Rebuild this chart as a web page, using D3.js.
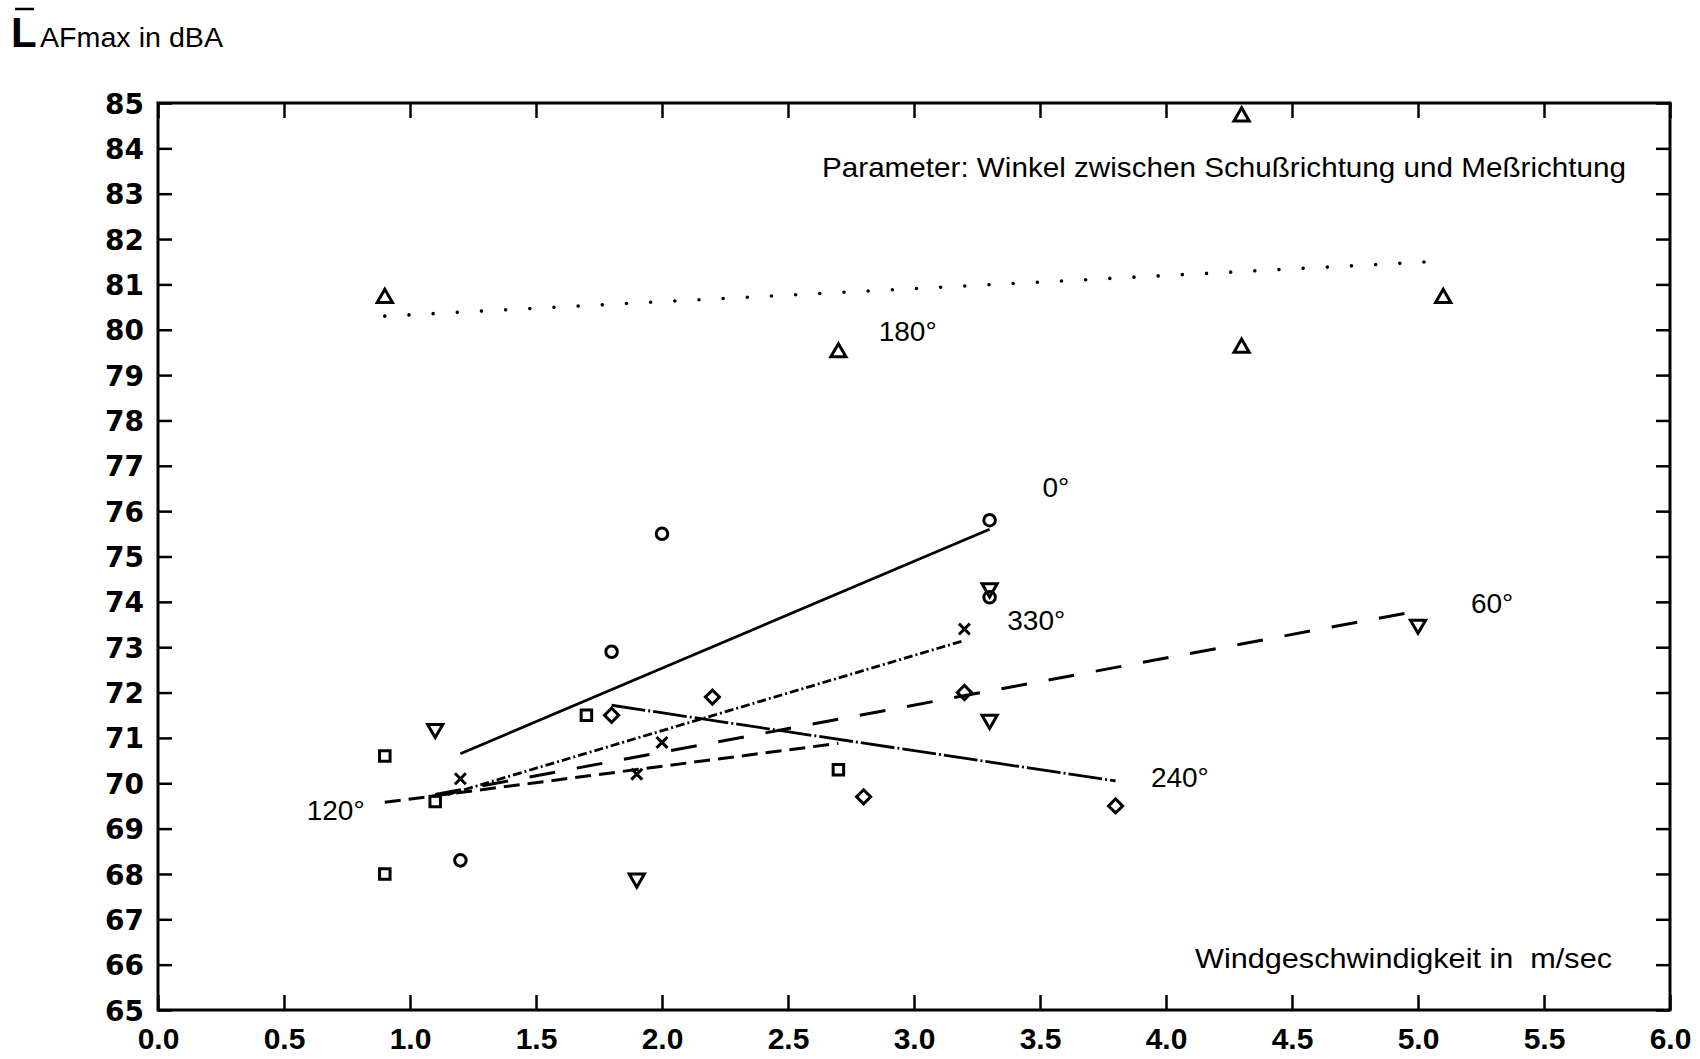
<!DOCTYPE html>
<html>
<head>
<meta charset="utf-8">
<title>LAFmax - Windgeschwindigkeit</title>
<script src="https://cdn.jsdelivr.net/npm/d3@7"></script>
<style>
  body { margin: 0; background: #fff; }
  svg text { fill: #000; }
  .lbl { font-family: "Liberation Sans", Arial, sans-serif; font-size: 28px; }
</style>
</head>
<body>
<svg id="chart" width="1700" height="1059"></svg>
<script>
// wind speed (m/s) vs. LAFmax (dBA), one array per shooting angle
var deg0   = [[1.2, 68.3], [1.8, 72.9], [2.0, 75.5], [3.3, 75.8], [3.3, 74.1]]
var deg60  = [[1.1, 71.2], [1.9, 67.9], [3.3, 74.3], [3.3, 71.4], [5.0, 73.5]]
var deg120 = [[0.9, 70.6], [0.9, 68.0], [1.1, 69.6], [1.7, 71.5], [2.7, 70.3]]
var deg180 = [[0.9, 80.7], [2.7, 79.5], [4.3, 84.7], [4.3, 79.6], [5.1, 80.7]]
var deg240 = [[1.8, 71.5], [2.2, 71.9], [2.8, 69.7], [3.2, 72.0], [3.8, 69.5]]
var deg330 = [[1.2, 70.1], [1.9, 70.2], [2.0, 70.9], [3.2, 73.4]]

// regression lines as drawn in the figure (start, end)
var fit0   = [[1.2, 70.65], [3.3, 75.6]]
var fit60  = [[1.1, 69.75], [5.0, 73.8]]
var fit120 = [[0.9, 69.58], [2.7, 70.88]]
var fit180 = [[0.9, 80.3], [5.05, 81.5]]
var fit240 = [[1.8, 71.72], [3.8, 70.05]]
var fit330 = [[1.15, 69.75], [3.2, 73.15]]

var xTickValues = [0, 0.5, 1, 1.5, 2, 2.5, 3, 3.5, 4, 4.5, 5, 5.5, 6]
var xTickLabels = ["0.0", "0.5", "1.0", "1.5", "2.0", "2.5", "3.0", "3.5", "4.0", "4.5", "5.0", "5.5", "6.0"]
var yTickValues = [65, 66, 67, 68, 69, 70, 71, 72, 73, 74, 75, 76, 77, 78, 79, 80, 81, 82, 83, 84, 85]

var angleLabels = ["0°", "60°", "120°", "180°", "240°", "330°"]
var angleLabelAt = [[3.51, 76.31], [5.21, 73.75], [0.59, 69.19], [2.86, 79.75], [3.94, 69.92], [3.37, 73.38]]

var svg = d3.select('#chart')
var x = d3.scaleLinear().domain([0, 6]).range([158, 1670])
  , y = d3.scaleLinear().domain([65, 85]).range([1010, 103])

// frame
svg.append('rect')
  .attr('x', x(0)).attr('y', y(85))
  .attr('width', x(6) - x(0)).attr('height', y(65) - y(85))
  .attr('fill', 'none').attr('stroke', '#000').attr('stroke-width', 3)

function styleAxis (g) {
  g.select('.domain').remove()
  g.selectAll('.tick line').attr('stroke', '#000').attr('stroke-width', 2.5)
}

svg.append('g').attr('transform', 'translate(0,' + y(65) + ')')
  .call(d3.axisBottom(x).tickValues(xTickValues)
    .tickFormat(function (d, i) { return xTickLabels[i] })
    .tickSizeInner(-15).tickSizeOuter(0).tickPadding(18))
  .call(styleAxis)
  .selectAll('text')
  .attr('font-family', '"Liberation Sans", Arial, sans-serif')
  .attr('font-weight', 'bold').attr('font-size', 30).attr('fill', '#000')

svg.append('g').attr('transform', 'translate(0,' + y(85) + ')')
  .call(d3.axisTop(x).tickValues(xTickValues).tickFormat('')
    .tickSizeInner(-15).tickSizeOuter(0))
  .call(styleAxis)

svg.append('g').attr('transform', 'translate(' + x(0) + ',0)')
  .call(d3.axisLeft(y).tickValues(yTickValues).tickFormat(d3.format('d'))
    .tickSizeInner(-14).tickSizeOuter(0).tickPadding(14))
  .call(styleAxis)
  .selectAll('text')
  .attr('font-family', '"DejaVu Sans", sans-serif')
  .attr('font-weight', 'bold').attr('font-size', 28).attr('fill', '#000')
  .attr('dy', '0.36em')

svg.append('g').attr('transform', 'translate(' + x(6) + ',0)')
  .call(d3.axisRight(y).tickValues(yTickValues).tickFormat('')
    .tickSizeInner(-14).tickSizeOuter(0))
  .call(styleAxis)

// fitted lines
var line = d3.line().x(function (d) { return x(d[0]) }).y(function (d) { return y(d[1]) })
var fits = [
  { d: fit0,   dash: null,           w: 2.8, cap: 'butt' },
  { d: fit60,  dash: '26 22',        w: 3,   cap: 'butt' },
  { d: fit120, dash: '16 8',         w: 3,   cap: 'butt' },
  { d: fit180, dash: '0 24.2',       w: 3.6, cap: 'round' },
  { d: fit240, dash: '34 3 2 3',     w: 2.8, cap: 'butt' },
  { d: fit330, dash: '9 3 2 3',      w: 2.8, cap: 'butt' }
]
svg.append('g').selectAll('path').data(fits).enter().append('path')
  .attr('d', function (f) { return line(f.d) })
  .attr('fill', 'none').attr('stroke', '#000')
  .attr('stroke-width', function (f) { return f.w })
  .attr('stroke-linecap', function (f) { return f.cap })
  .attr('stroke-dasharray', function (f) { return f.dash })

// markers
var times = d3.symbolTimes || d3.symbolX
var markers = [
  { d: deg0,   type: d3.symbolCircle,   size: 105, rot: 0 },
  { d: deg60,  type: d3.symbolTriangle, size: 100, rot: 180 },
  { d: deg120, type: d3.symbolSquare,   size: 110, rot: 0 },
  { d: deg180, type: d3.symbolTriangle, size: 100, rot: 0 },
  { d: deg240, type: d3.symbolSquare,   size: 100, rot: 45 },
  { d: deg330, type: times,             size: 80,  rot: 0 }
]
markers.forEach(function (m) {
  var sym = d3.symbol().type(m.type).size(m.size)
  svg.append('g').selectAll('path').data(m.d).enter().append('path')
    .attr('d', sym)
    .attr('transform', function (d) {
      return 'translate(' + x(d[0]) + ',' + y(d[1]) + ') rotate(' + m.rot + ')'
    })
    .attr('fill', 'none').attr('stroke', '#000').attr('stroke-width', 3)
})

// angle labels
svg.append('g').selectAll('text').data(angleLabels).enter().append('text')
  .attr('class', 'lbl')
  .attr('x', function (d, i) { return x(angleLabelAt[i][0]) })
  .attr('y', function (d, i) { return y(angleLabelAt[i][1]) })
  .text(function (d) { return d })

svg.append('text').attr('class', 'lbl')
  .attr('x', 822).attr('y', 177)
  .attr('textLength', 804).attr('lengthAdjust', 'spacingAndGlyphs')
  .text('Parameter: Winkel zwischen Schußrichtung und Meßrichtung')

svg.append('text').attr('class', 'lbl')
  .attr('x', 1195).attr('y', 968).style('white-space', 'pre')
  .attr('textLength', 417).attr('lengthAdjust', 'spacingAndGlyphs')
  .text('Windgeschwindigkeit in  m/sec')

// y axis title: L with overbar, then "AFmax in dBA"
svg.append('line').attr('x1', 15).attr('x2', 34).attr('y1', 9).attr('y2', 9)
  .attr('stroke', '#000').attr('stroke-width', 2.5)
svg.append('text').attr('class', 'lbl')
  .attr('x', 11).attr('y', 47).style('font-size', '42px').style('font-weight', 'bold')
  .text('L')
svg.append('text').attr('class', 'lbl')
  .attr('x', 40).attr('y', 47)
  .attr('textLength', 183).attr('lengthAdjust', 'spacingAndGlyphs')
  .text('AFmax in dBA')
</script>
</body>
</html>
